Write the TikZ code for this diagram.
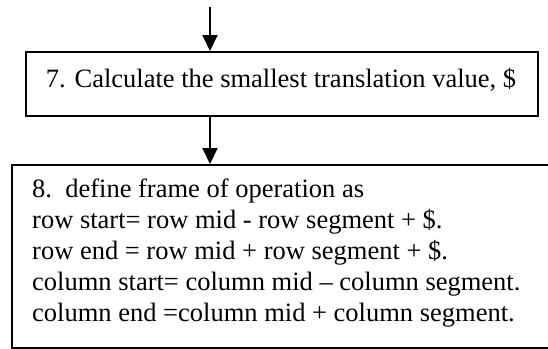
\documentclass[tikz,border=0pt]{standalone}
\usepackage{fontspec}
\setmainfont{Liberation Serif}
\usetikzlibrary{arrows.meta}
\begin{document}
\begin{tikzpicture}[x=1pt,y=-1pt,
  stepbox/.style={draw, line width=2pt, rectangle, inner sep=0pt},
  flow/.style={line width=2pt, -{Triangle[width=15pt,length=16pt]}},
  steptext/.style={font=\fontsize{26.5}{31}\selectfont, inner sep=0pt}]
\useasboundingbox (0,0) rectangle (548,348);
% step 7
\node[stepbox, minimum width=512pt, minimum height=64pt] (box7) at (282,84) {};
\node[steptext, anchor=base] (t7) at (281,87) {7. Calculate the smallest translation value, \$};
% step 8 (box runs past the right margin)
\node[stepbox, minimum width=560pt, minimum height=183pt, anchor=north west] (box8) at (11,164) {};
% base anchor of a multi-line node sits on its last line
\node[steptext, anchor=base west, align=left] (t8) at (32,321)
  {8.\ \ define frame of operation as\\
   row start= row mid - row segment + \$.\\
   row end = row mid + row segment + \$.\\
   column start= column mid -- column segment.\\
   column end =column mid + column segment.};
% connectors
\coordinate (in7) at (210,7);
\draw[flow] (in7) -- (in7 |- box7.north);
\draw[flow] (in7 |- box7.south) -- (in7 |- box8.north);
\end{tikzpicture}
\end{document}
